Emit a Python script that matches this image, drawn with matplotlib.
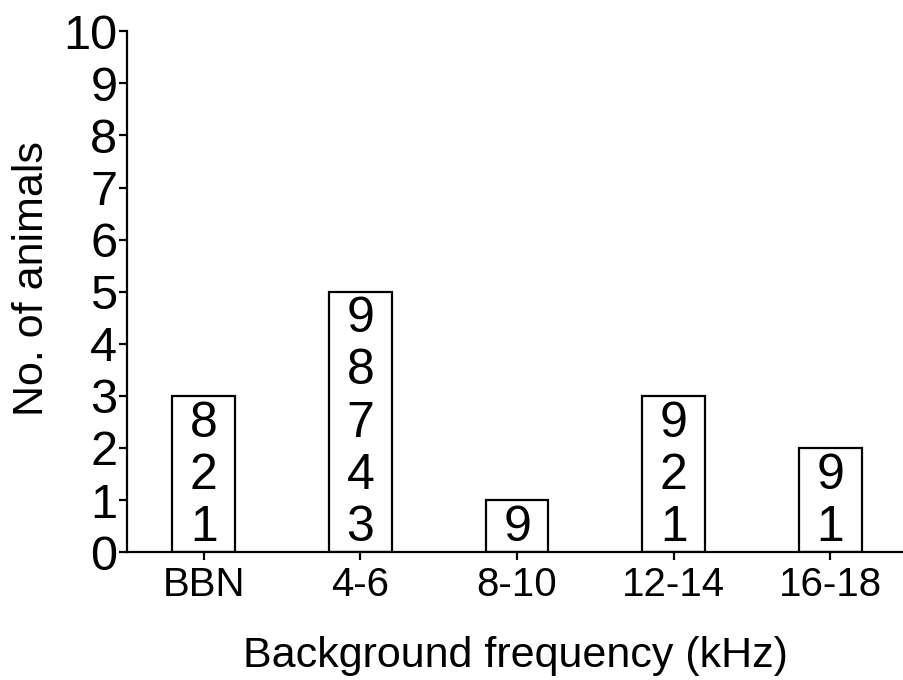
import matplotlib.pyplot as plt

plt.rcParams['font.family'] = ['Liberation Sans', 'DejaVu Sans']

# data
categories = ['BBN', '4-6', '8-10', '12-14', '16-18']
counts = [3, 5, 1, 3, 2]
# animal IDs stacked inside each bar, bottom to top
animal_ids = [
    ['1', '2', '8'],
    ['3', '4', '7', '8', '9'],
    ['9'],
    ['1', '2', '9'],
    ['1', '9'],
]

fig = plt.figure(figsize=(9.04, 6.8), dpi=100)
ax = fig.add_axes([0.1405, 0.188, 0.8595, 0.766])

x = range(len(categories))
ax.bar(x, counts, width=0.4, color='white', edgecolor='black', linewidth=1.6)

# write the ids inside the bars
for i, ids in enumerate(animal_ids):
    for j, label in enumerate(ids):
        ax.text(i, j + 0.47, label, ha='center', va='center', fontsize=36)

ax.set_xlim(-0.49, 4.47)
ax.set_ylim(0, 10)
ax.set_yticks(range(0, 11))
ax.set_xticks(list(x))
ax.set_xticklabels(categories)

ax.spines['top'].set_visible(False)
ax.spines['right'].set_visible(False)
ax.spines['left'].set_linewidth(1.6)
ax.spines['bottom'].set_linewidth(1.6)
ax.tick_params(axis='both', direction='out', length=6, width=1.6)
ax.tick_params(axis='y', labelsize=35, pad=1)
ax.tick_params(axis='x', labelsize=29, pad=4)

ax.set_xlabel('Background frequency (kHz)', fontsize=31, labelpad=23)
ax.set_ylabel('No. of animals', fontsize=31)
ax.yaxis.set_label_coords(-0.096, 0.526)

fig.savefig('out.png', dpi=100)
